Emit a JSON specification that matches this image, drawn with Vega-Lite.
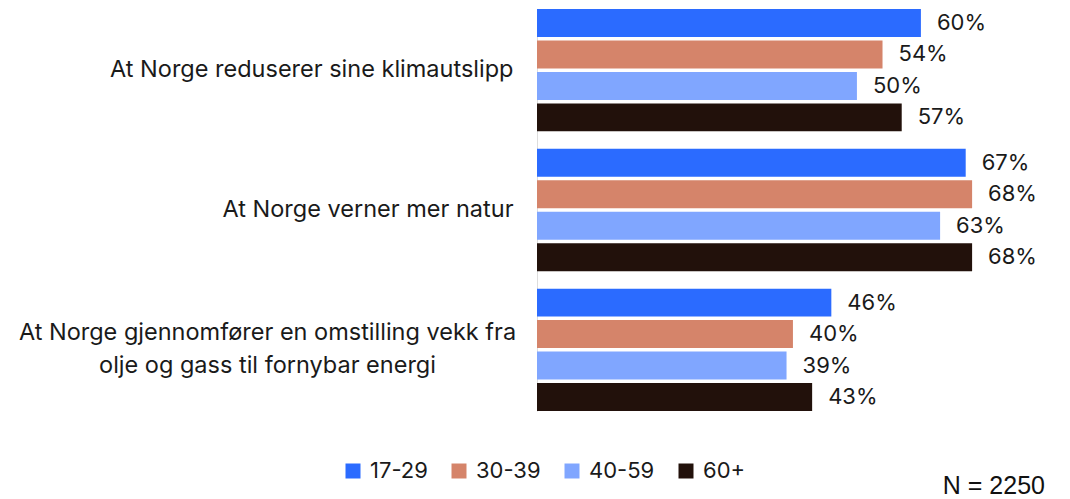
{
  "$schema": "https://vega.github.io/schema/vega-lite/v6.json",
  "width": 533,
  "height": 402,
  "autosize": {"type": "none"},
  "padding": {"left": 537, "top": 9, "right": 0, "bottom": 88},
  "background": "white",
  "config": {"view": {"stroke": null}, "font": "Inter"},
  "title": {"text": "N = 2250", "orient": "bottom", "anchor": "end", "frame": "group", "font": "Liberation Sans", "fontSize": 25, "fontWeight": "normal", "color": "#111", "baseline": "alphabetic", "offset": 12, "dx": -25},
  "data": {"values": [
    {"question": "At Norge reduserer sine klimautslipp", "group": "17-29", "value": 0.60},
    {"question": "At Norge reduserer sine klimautslipp", "group": "30-39", "value": 0.54},
    {"question": "At Norge reduserer sine klimautslipp", "group": "40-59", "value": 0.50},
    {"question": "At Norge reduserer sine klimautslipp", "group": "60+", "value": 0.57},
    {"question": "At Norge verner mer natur", "group": "17-29", "value": 0.67},
    {"question": "At Norge verner mer natur", "group": "30-39", "value": 0.68},
    {"question": "At Norge verner mer natur", "group": "40-59", "value": 0.63},
    {"question": "At Norge verner mer natur", "group": "60+", "value": 0.68},
    {"question": "At Norge gjennomfører en omstilling vekk fra|olje og gass til fornybar energi", "group": "17-29", "value": 0.46},
    {"question": "At Norge gjennomfører en omstilling vekk fra|olje og gass til fornybar energi", "group": "30-39", "value": 0.40},
    {"question": "At Norge gjennomfører en omstilling vekk fra|olje og gass til fornybar energi", "group": "40-59", "value": 0.39},
    {"question": "At Norge gjennomfører en omstilling vekk fra|olje og gass til fornybar energi", "group": "60+", "value": 0.43}
  ]},
  "encoding": {
    "y": {
      "field": "question", "type": "nominal",
      "sort": ["At Norge reduserer sine klimautslipp", "At Norge verner mer natur", "At Norge gjennomfører en omstilling vekk fra|olje og gass til fornybar energi"],
      "scale": {"paddingInner": 0.125, "paddingOuter": 0},
      "axis": {
        "title": null, "ticks": false, "tickSize": 0, "domain": true, "domainColor": "#dddddd", "domainWidth": 1,
        "labelExpr": "split(datum.label, '|')",
        "labelFontSize": 23.5, "labelColor": "#1a1a1a", "labelLineHeight": 33, "labelBaseline": "middle", "labelLimit": 600,
        "labelAlign": {"condition": {"test": "indexof(datum.value, '|') >= 0", "value": "center"}, "value": "right"},
        "labelPadding": {"condition": {"test": "indexof(datum.value, '|') >= 0", "value": 270}, "value": 24},
        "labelOffset": {"condition": {"test": "indexof(datum.value, '|') >= 0", "value": -16.5}, "value": 0}
      }
    },
    "yOffset": {"field": "group", "type": "nominal", "sort": ["17-29", "30-39", "40-59", "60+"], "scale": {"paddingInner": 0.111, "paddingOuter": 0}},
    "x": {"field": "value", "type": "quantitative", "scale": {"domain": [0, 0.833]}, "axis": null}
  },
  "layer": [
    {
      "mark": {"type": "bar"},
      "encoding": {
        "color": {
          "field": "group", "type": "nominal",
          "scale": {"domain": ["17-29", "30-39", "40-59", "60+"], "range": ["#2B6BFF", "#D5846A", "#80A6FF", "#22110B"]},
          "legend": {
            "title": null, "orient": "none", "direction": "horizontal", "legendX": -195, "legendY": 451,
            "symbolType": "square", "symbolSize": 225, "symbolStrokeWidth": 0, "labelFontSize": 22, "labelColor": "#1a1a1a",
            "labelOffset": 6, "columnPadding": 20, "gridAlign": "none"
          }
        }
      }
    },
    {
      "mark": {"type": "text", "align": "left", "baseline": "middle", "dx": 16, "fontSize": 22, "color": "#1a1a1a"},
      "encoding": {"text": {"field": "value", "type": "quantitative", "format": ".0%"}}
    }
  ]
}
